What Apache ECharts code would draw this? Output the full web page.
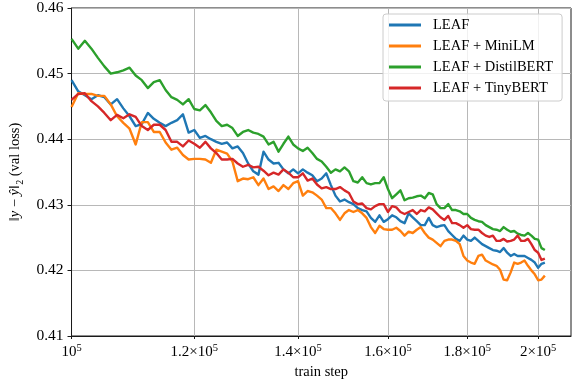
<!DOCTYPE html>
<html>
<head>
<meta charset="utf-8">
<style>
  html, body { margin: 0; padding: 0; background: #ffffff; }
  #chart { width: 578px; height: 389px; }
</style>
<script src="https://cdn.jsdelivr.net/npm/echarts@6/dist/echarts.min.js"></script>
</head>
<body>
<div id="chart"></div>
<script>
// Validation loss of the LEAF model family, logged every 1000 train steps.
const seriesNames = ['LEAF', 'LEAF + MiniLM', 'LEAF + DistilBERT', 'LEAF + TinyBERT'];
const seriesColors = ['#1f77b4', '#ff7f0e', '#2ca02c', '#d62728'];

const firstStep = 100000;
const stepEvery = 1000;
const stepCount = 103;
const steps = Array.from({ length: stepCount }, (_, i) => firstStep + i * stepEvery);

const leaf = [
  0.4490, 0.4473, 0.4467, 0.4461, 0.4467, 0.4464, 0.4453, 0.4461, 0.4447, 0.4435,
  0.4420, 0.4423, 0.4440, 0.4431, 0.4425, 0.4420, 0.4425, 0.4429, 0.4438, 0.4410,
  0.4414, 0.4402, 0.4405, 0.4400, 0.4396, 0.4393, 0.4395, 0.4386, 0.4389, 0.4379,
  0.4363, 0.4351, 0.4346, 0.4381, 0.4369, 0.4363, 0.4364, 0.4354, 0.4348, 0.4354,
  0.4348, 0.4354, 0.4349, 0.4345, 0.4336, 0.4340, 0.4348, 0.4330, 0.4314, 0.4305,
  0.4308, 0.4304, 0.4301, 0.4295, 0.4292, 0.4290, 0.4280, 0.4274, 0.4284, 0.4274,
  0.4278, 0.4284, 0.4281, 0.4275, 0.4272, 0.4287, 0.4281, 0.4275, 0.4269, 0.4269,
  0.4280, 0.4269, 0.4266, 0.4268, 0.4269, 0.4260, 0.4254, 0.4248, 0.4245, 0.4253,
  0.4247, 0.4245, 0.4250, 0.4245, 0.4240, 0.4237, 0.4234, 0.4231, 0.4230, 0.4228,
  0.4234, 0.4227, 0.4222, 0.4225, 0.4222, 0.4222, 0.4222, 0.4219, 0.4216, 0.4212,
  0.4204, 0.4210, 0.4212
];

const leafMiniLM = [
  0.4449, 0.4470, 0.4469, 0.4469, 0.4466, 0.4466, 0.4453, 0.4435, 0.4425, 0.4416,
  0.4392, 0.4426, 0.4426, 0.4411, 0.4411, 0.4395, 0.4384, 0.4387, 0.4376, 0.4369,
  0.4370, 0.4370, 0.4369, 0.4364, 0.4384, 0.4381, 0.4378, 0.4366, 0.4336, 0.4340,
  0.4339, 0.4342, 0.4330, 0.4340, 0.4324, 0.4328, 0.4321, 0.4330, 0.4324, 0.4333,
  0.4336, 0.4314, 0.4321, 0.4319, 0.4314, 0.4308, 0.4295, 0.4295, 0.4287, 0.4277,
  0.4287, 0.4292, 0.4289, 0.4292, 0.4287, 0.4280, 0.4266, 0.4257, 0.4268, 0.4263,
  0.4262, 0.4262, 0.4265, 0.4260, 0.4253, 0.4259, 0.4257, 0.4262, 0.4266, 0.4257,
  0.4250, 0.4247, 0.4242, 0.4237, 0.4245, 0.4247, 0.4247, 0.4245, 0.4240, 0.4222,
  0.4215, 0.4212, 0.4210, 0.4222, 0.4224, 0.4215, 0.4212, 0.4209, 0.4207, 0.4201,
  0.4186, 0.4185, 0.4197, 0.4212, 0.4210, 0.4212, 0.4215, 0.4207, 0.4200, 0.4194,
  0.4185, 0.4186, 0.4192
];

const leafDistilBERT = [
  0.4553, 0.4538, 0.4550, 0.4538, 0.4524, 0.4511, 0.4500, 0.4502, 0.4505, 0.4509,
  0.4497, 0.4490, 0.4478, 0.4487, 0.4490, 0.4475, 0.4464, 0.4460, 0.4453, 0.4461,
  0.4446, 0.4444, 0.4452, 0.4441, 0.4428, 0.4420, 0.4422, 0.4417, 0.4405, 0.4411,
  0.4414, 0.4410, 0.4408, 0.4404, 0.4392, 0.4396, 0.4381, 0.4393, 0.4404, 0.4392,
  0.4386, 0.4382, 0.4387, 0.4379, 0.4370, 0.4366, 0.4358, 0.4349, 0.4354, 0.4351,
  0.4357, 0.4351, 0.4336, 0.4334, 0.4342, 0.4333, 0.4331, 0.4333, 0.4333, 0.4342,
  0.4324, 0.4310, 0.4316, 0.4322, 0.4307, 0.4310, 0.4311, 0.4313, 0.4314, 0.4310,
  0.4318, 0.4316, 0.4301, 0.4295, 0.4295, 0.4301, 0.4292, 0.4292, 0.4290, 0.4286,
  0.4286, 0.4280, 0.4277, 0.4275, 0.4274, 0.4269, 0.4266, 0.4263, 0.4262, 0.4260,
  0.4266, 0.4262, 0.4259, 0.4260, 0.4256, 0.4254, 0.4253, 0.4257, 0.4253, 0.4248,
  0.4247, 0.4234, 0.4231
];

const leafTinyBERT = [
  0.4460, 0.4469, 0.4470, 0.4458, 0.4450, 0.4440, 0.4429, 0.4437, 0.4432, 0.4438,
  0.4434, 0.4420, 0.4414, 0.4422, 0.4422, 0.4414, 0.4396, 0.4396, 0.4389, 0.4398,
  0.4393, 0.4387, 0.4396, 0.4386, 0.4379, 0.4369, 0.4369, 0.4370, 0.4363, 0.4358,
  0.4361, 0.4357, 0.4358, 0.4352, 0.4345, 0.4349, 0.4346, 0.4354, 0.4349, 0.4342,
  0.4342, 0.4348, 0.4337, 0.4340, 0.4331, 0.4325, 0.4327, 0.4324, 0.4324, 0.4327,
  0.4322, 0.4318, 0.4305, 0.4301, 0.4302, 0.4295, 0.4293, 0.4298, 0.4301, 0.4301,
  0.4289, 0.4298, 0.4296, 0.4289, 0.4286, 0.4289, 0.4292, 0.4286, 0.4292, 0.4290,
  0.4296, 0.4293, 0.4287, 0.4281, 0.4277, 0.4283, 0.4272, 0.4272, 0.4269, 0.4265,
  0.4269, 0.4263, 0.4262, 0.4262, 0.4257, 0.4253, 0.4251, 0.4253, 0.4245, 0.4245,
  0.4248, 0.4244, 0.4245, 0.4247, 0.4253, 0.4245, 0.4245, 0.4248, 0.4240, 0.4231,
  0.4227, 0.4216, 0.4218
];

// x ticks on the log axis: value and the mantissa printed before "×10^5"
const xTickValues = [100000, 120000, 140000, 160000, 180000, 200000];
const xTickMantissas = ['', '1.2', '1.4', '1.6', '1.8', '2'];

const serif = '"Liberation Serif", "DejaVu Serif", serif';
const seriesValues = [leaf, leafMiniLM, leafDistilBERT, leafTinyBERT];

const chart = echarts.init(document.getElementById('chart'), null, { renderer: 'canvas' });

chart.setOption({
  animation: false,
  backgroundColor: '#ffffff',
  textStyle: { fontFamily: serif },
  grid: {
    left: 71, right: 7, top: 5, bottom: 53,
    show: true, borderColor: '#1a1a1a', borderWidth: 1, backgroundColor: 'transparent'
  },
  legend: {
    orient: 'vertical',
    left: 383, top: 14,
    padding: [3, 9, 5, 6],
    icon: 'rect',
    itemWidth: 32, itemHeight: 3, itemGap: 5,
    backgroundColor: 'rgba(255,255,255,0.8)',
    borderColor: '#cccccc', borderWidth: 1, borderRadius: 3,
    textStyle: { fontFamily: serif, fontSize: 14.5, color: '#000', lineHeight: 16, padding: [0, 0, 0, 7] },
    data: seriesNames
  },
  xAxis: {
    type: 'log',
    logBase: 10,
    min: 100000,
    max: 210000,
    name: 'train step',
    nameLocation: 'middle',
    nameGap: 22,
    nameTextStyle: { fontFamily: serif, fontSize: 14.5, color: '#000' },
    axisLine: { show: true, lineStyle: { color: '#1a1a1a', width: 1 } },
    axisTick: { show: true, inside: false, length: 3, customValues: xTickValues, lineStyle: { color: '#1a1a1a' } },
    minorTick: { show: false },
    splitLine: { show: true, lineStyle: { color: '#b8b8b8', width: 1 } },
    minorSplitLine: { show: false },
    axisLabel: {
      customValues: xTickValues,
      margin: 7,
      formatter: function (v) {
        const i = xTickValues.indexOf(Math.round(v));
        const m = i >= 0 ? xTickMantissas[i] : '';
        return (m ? '{t|' + m + '×10}' : '{t|10}') + '{e|5}';
      },
      rich: {
        t: { fontFamily: serif, fontSize: 15, color: '#000', lineHeight: 18 },
        e: { fontFamily: serif, fontSize: 10.5, color: '#000', lineHeight: 11, verticalAlign: 'top' }
      }
    }
  },
  yAxis: {
    type: 'value',
    min: 0.41,
    max: 0.46,
    interval: 0.01,
    name: '{n|‖}{i|y}{n| − }{i|ŷ}{n|‖}{s|2}{n| (val loss)}',
    nameLocation: 'middle',
    nameRotate: 90,
    nameGap: 37,
    nameTextStyle: {
      rich: {
        n: { fontFamily: serif, fontSize: 14.5, color: '#000', lineHeight: 20 },
        i: { fontFamily: serif, fontSize: 14.5, color: '#000', lineHeight: 20, fontStyle: 'italic' },
        s: { fontFamily: serif, fontSize: 10, color: '#000', lineHeight: 10, verticalAlign: 'bottom' }
      }
    },
    axisLine: { show: true, lineStyle: { color: '#1a1a1a', width: 1 } },
    axisTick: { show: true, inside: false, length: 4, lineStyle: { color: '#1a1a1a' } },
    splitLine: { show: true, lineStyle: { color: '#b8b8b8', width: 1 } },
    axisLabel: {
      margin: 8,
      fontFamily: serif, fontSize: 15.5, color: '#000',
      formatter: v => v.toFixed(2)
    }
  },
  series: seriesNames.map((name, s) => ({
    name: name,
    type: 'line',
    symbol: 'none',
    showSymbol: false,
    smooth: false,
    color: seriesColors[s],
    lineStyle: { width: 2.4, color: seriesColors[s], join: 'round' },
    data: steps.map((x, i) => [x, seriesValues[s][i]]),
    z: 2 + s
  }))
});
</script>
</body>
</html>
